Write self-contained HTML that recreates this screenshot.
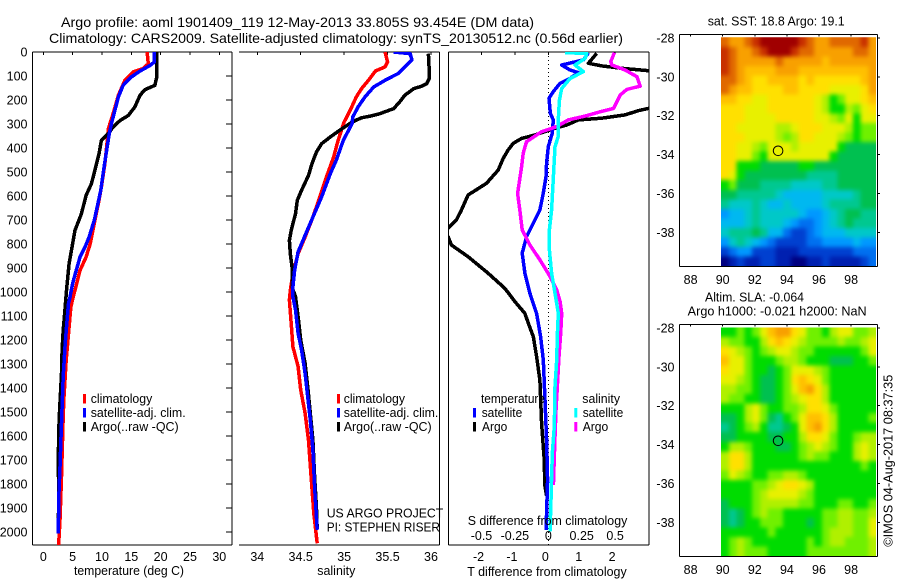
<!DOCTYPE html>
<html lang="en">
<head>
<meta charset="utf-8">
<title>Argo profile 1901409_119</title>
<style>
html,body{margin:0;padding:0;background:#fff;width:900px;height:580px;overflow:hidden}
svg{display:block}
text{font-family:"Liberation Sans",Arial,sans-serif;font-size:12.5px;fill:#000}
.t{font-size:14px}
</style>
</head>
<body>
<svg id="fig" xmlns="http://www.w3.org/2000/svg" width="900" height="580" viewBox="0 0 900 580">
<defs>
<clipPath id="clip1"><rect x="33" y="52" width="199" height="493"/></clipPath>
<clipPath id="clip2"><rect x="239" y="52" width="200" height="493"/></clipPath>
<clipPath id="clip3"><rect x="449" y="52" width="200" height="493"/></clipPath>
<clipPath id="clipSst"><rect x="721" y="37.3" width="155" height="229"/></clipPath>
<clipPath id="clipSla"><rect x="721" y="327.5" width="155" height="229"/></clipPath>
<filter id="soften" x="-10%" y="-10%" width="120%" height="120%" color-interpolation-filters="sRGB">
<feGaussianBlur stdDeviation="2.2"/>
<feComponentTransfer><feFuncA type="linear" slope="60"/></feComponentTransfer>
</filter>
</defs>
<g id="maps"></g>
<g id="axes"></g>
<g id="series"></g>
<g id="labels"></g>

<text class="t" x="61" y="27" textLength="473" lengthAdjust="spacingAndGlyphs">Argo profile: aoml 1901409_119 12-May-2013 33.805S 93.454E (DM data)</text>
<text class="t" x="49" y="43" textLength="574" lengthAdjust="spacingAndGlyphs">Climatology: CARS2009. Satellite-adjusted climatology: synTS_20130512.nc (0.56d earlier)</text>

<text x="74" y="575" textLength="110" lengthAdjust="spacingAndGlyphs">temperature (deg C)</text>
<text x="317.3" y="575" textLength="38" lengthAdjust="spacingAndGlyphs">salinity</text>
<text x="467.3" y="576" textLength="159.4" lengthAdjust="spacingAndGlyphs">T difference from climatology</text>
<text x="467.7" y="525" textLength="159.6" lengthAdjust="spacingAndGlyphs">S difference from climatology</text>

<g>
<rect x="83" y="394" width="3" height="9.5" fill="#f00"/>
<rect x="83" y="408" width="3" height="9.5" fill="#00f"/>
<rect x="83" y="422" width="3" height="9.5" fill="#000"/>
<text x="90.7" y="403" textLength="61.6" lengthAdjust="spacingAndGlyphs">climatology</text>
<text x="90.7" y="417" textLength="95" lengthAdjust="spacingAndGlyphs">satellite-adj. clim.</text>
<text x="90.7" y="431" textLength="88" lengthAdjust="spacingAndGlyphs">Argo(..raw -QC)</text>
</g>
<g>
<rect x="337" y="394" width="3" height="9.5" fill="#f00"/>
<rect x="337" y="408" width="3" height="9.5" fill="#00f"/>
<rect x="337" y="422" width="3" height="9.5" fill="#000"/>
<text x="343.7" y="403" textLength="61.3" lengthAdjust="spacingAndGlyphs">climatology</text>
<text x="343.7" y="417" textLength="94.6" lengthAdjust="spacingAndGlyphs">satellite-adj. clim.</text>
<text x="343.7" y="431" textLength="88" lengthAdjust="spacingAndGlyphs">Argo(..raw -QC)</text>
</g>
<text x="326.7" y="517.7" textLength="116.6" lengthAdjust="spacingAndGlyphs">US ARGO PROJECT</text>
<text x="326.7" y="531.7" textLength="113.3" lengthAdjust="spacingAndGlyphs">PI: STEPHEN RISER</text>

<g>
<text x="481" y="403" textLength="64" lengthAdjust="spacingAndGlyphs">temperature</text>
<rect x="473" y="408" width="3" height="9.5" fill="#00f"/>
<rect x="473" y="422" width="3" height="9.5" fill="#000"/>
<text x="481.7" y="417" textLength="40.6" lengthAdjust="spacingAndGlyphs">satellite</text>
<text x="482" y="431" textLength="25.3" lengthAdjust="spacingAndGlyphs">Argo</text>
<text x="582.3" y="403" textLength="37.7" lengthAdjust="spacingAndGlyphs">salinity</text>
<rect x="574.3" y="408" width="3" height="9.5" fill="#0ff"/>
<rect x="574.3" y="422" width="3" height="9.5" fill="#f0f"/>
<text x="582.7" y="417" textLength="40.6" lengthAdjust="spacingAndGlyphs">satellite</text>
<text x="582.7" y="431" textLength="25.6" lengthAdjust="spacingAndGlyphs">Argo</text>
</g>

<text x="707.7" y="25.7" textLength="137" lengthAdjust="spacingAndGlyphs">sat. SST: 18.8 Argo: 19.1</text>
<text x="705" y="301.7" textLength="99" lengthAdjust="spacingAndGlyphs">Altim. SLA: -0.064</text>
<text x="687.7" y="315.7" textLength="179" lengthAdjust="spacingAndGlyphs">Argo h1000: -0.021 h2000: NaN</text>
<text transform="translate(892.5,546.7) rotate(-90)" x="0" y="0" textLength="172" lengthAdjust="spacingAndGlyphs">©IMOS 04-Aug-2017 08:37:35</text>
</svg>

<script>
// ---- tick data ----
const depthTicks = [0,100,200,300,400,500,600,700,800,900,1000,1100,1200,1300,1400,1500,1600,1700,1800,1900,2000];
const tempTicks = [0,5,10,15,20,25,30];
const salTicks = [34,34.5,35,35.5,36];
const diffTTicks = [-2,-1,0,1,2];
const diffSTickLabels = ["-0.5","-0.25","0","0.25","0.5"];
const diffSTicks = [-0.5,-0.25,0,0.25,0.5];
const lonTicks = [88,90,92,94,96,98];
const latTicks = [-28,-30,-32,-34,-36,-38];

// ---- temperature panel ----
const tempArgoDepth = [0,110,139,157,180,229,264,285,312,340,368,424,493,549,597,674,743,799,882,979,1040,1103,1158,1242,1339,1436,1533,1686,1850,2000];
const tempArgoValue = [19.3,19.3,19.0,17.3,16.5,15.6,14.5,13.1,11.9,11.1,9.9,9.5,8.8,8.2,7.3,6.5,5.4,5.0,4.4,4.0,3.8,3.6,3.4,3.2,3.1,2.9,2.7,2.55,2.62,2.55];
const tempClimDepth = [0,49,69,83,118,180,257,319,368,465,562,618,701,799,854,910,965,1021,1061,1145,1228,1283,1450,1547,1770,1950,2055];
const tempClimValue = [17.7,17.9,17,15.3,13.9,12.8,11.9,11.1,10.9,10.5,9.9,9.5,8.8,8,7.3,6.25,5.7,5.1,4.7,4.4,4.1,3.9,3.5,3.35,3.1,2.85,2.6];
const tempSatDepth = [0,42,56,79,104,139,187,243,299,340,424,507,576,632,701,771,813,854,910,965,1028,1048,1131,1228,1353,1478,1617,1728,1853,2006];
const tempSatValue = [18.9,18.9,18.2,16.5,15,13.6,12.8,12.2,11.6,11.25,10.7,10.2,9.8,9.3,8.7,7.8,7.1,6.25,5.6,5,4.5,4.3,4,3.7,3.4,3.2,3,2.85,2.65,2.55];

// ---- salinity panel ----
const salArgoDepth = [7,83,111,132,143,153,180,208,236,257,267,274,292,326,354,382,417,465,514,576,618,674,743,785,840,896,937,979,1019,1103,1200,1297,1394,1505,1617,1769,1894,1990];
const salArgoValue = [35.97,35.98,35.98,35.95,35.89,35.8,35.7,35.64,35.57,35.41,35.3,35.2,35.09,34.95,34.84,34.74,34.68,34.63,34.59,34.51,34.46,34.44,34.39,34.37,34.38,34.4,34.4,34.4,34.44,34.47,34.5,34.55,34.58,34.61,34.64,34.66,34.68,34.69];
const salClimDepth = [0,42,62,79,118,153,187,243,292,368,437,507,604,688,771,840,924,993,1033,1131,1228,1311,1408,1505,1617,1769,1922,2047];
const salClimValue = [35.47,35.5,35.47,35.36,35.28,35.2,35.14,35.07,35,34.93,34.88,34.81,34.72,34.64,34.55,34.47,34.41,34.38,34.37,34.39,34.41,34.47,34.5,34.55,34.59,34.62,34.65,34.69];
const salSatDepth = [0,7,32,62,90,118,146,187,229,271,299,368,451,507,604,688,764,833,910,979,1019,1075,1172,1242,1339,1436,1533,1658,1811,1991];
const salSatValue = [35.57,35.76,35.78,35.7,35.62,35.47,35.34,35.24,35.16,35.1,35.09,34.99,34.91,34.84,34.74,34.64,34.55,34.47,34.43,34.41,34.41,34.44,34.47,34.51,34.55,34.58,34.61,34.64,34.66,34.69];

// ---- difference panel ----
const dTArgoDepth = [6,47,58,68,78,120,180,220,235,244,262,276,283,304,318,346,360,381,408,443,492,547,596,658,700,735,752,770,804,853,922,985,1040,1089,1130,1186,1269,1367,1547,1686,1811,1850];
const dTArgoValue = [1.45,1.2,1.6,2.2,3.0,3.6,4.0,3.6,3.0,2.7,2.3,1.6,0.9,0.55,0.2,-0.4,-0.8,-1.05,-1.2,-1.35,-1.5,-1.85,-2.4,-2.6,-2.75,-3.0,-3.2,-3.0,-2.9,-2.4,-1.8,-1.3,-1.0,-0.7,-0.6,-0.45,-0.35,-0.25,-0.2,-0.13,-0.1,-0.05];
const dTSatDepth = [3,33,43,54,75,86,110,131,165,193,255,283,338,394,463,519,588,658,713,769,838,922,1005,1089,1186,1283,1450,1617,1783,1922,1992];
const dTSatValue = [1.2,1.05,0.75,0.4,0.65,0.9,0.65,0.35,0.15,0.02,0.06,0.15,0.12,0,-0.05,-0.07,-0.15,-0.25,-0.45,-0.65,-0.78,-0.7,-0.55,-0.35,-0.23,-0.15,-0.1,-0.05,-0.02,-0.05,-0.07];
const dSSatDepth = [3,6,27,54,82,110,152,201,283,352,394,519,658,741,825,922,1005,1089,1172,1283,1394,1561,1672,1866,1998];
const dSSatValue = [0.125,0.288,0.275,0.2,0.263,0.163,0.1,0.083,0.075,0.075,0.05,0.038,0.025,0.008,0.008,0.025,0.05,0.075,0.068,0.063,0.05,0.045,0.03,0.02,0.013];
const dSArgoDepth = [3,40,54,75,103,142,156,179,235,249,267,283,311,332,374,422,478,589,658,741,804,866,935,991,1040,1089,1172,1269,1367,1492,1603,1804];
const dSArgoValue = [0.495,0.468,0.475,0.575,0.663,0.688,0.588,0.538,0.488,0.388,0.275,0.15,0.063,-0.05,-0.163,-0.188,-0.2,-0.23,-0.213,-0.195,-0.138,-0.063,0.013,0.063,0.088,0.1,0.093,0.08,0.07,0.058,0.05,0.038];

// ---- map data: colour-scale levels, top row first ----
const sstLevels = [
[16,15,15,16,17,18,18,18,18,18,17,16,15,15,16,16,16,16,17,15],
[17,16,15,15,16,17,18,18,18,17,16,16,15,15,15,15,15,16,16,15],
[17,16,15,15,15,15,15,16,15,15,15,15,15,14,15,15,15,15,15,15],
[17,16,15,14,14,14,14,15,15,15,14,14,14,14,14,14,14,14,14,15],
[16,16,15,14,13,13,14,14,14,14,13,14,13,13,13,13,13,13,14,15],
[16,15,14,14,13,13,13,13,14,14,13,13,13,13,12,12,12,12,13,15],
[14,14,13,13,12,12,13,13,13,13,13,13,12,11,9,10,12,12,13,14],
[13,13,13,12,12,12,13,13,13,13,13,13,12,11,9,9,11,10,12,13],
[13,13,13,12,12,12,12,13,13,13,13,13,12,12,11,10,12,9,12,12],
[13,13,12,12,12,12,12,11,11,12,13,13,13,12,12,12,11,9,10,10],
[13,13,13,12,12,12,12,11,10,11,13,13,12,12,12,11,10,9,10,10],
[13,13,12,12,11,10,12,12,12,11,12,12,12,12,12,9,8,8,8,8],
[13,13,12,12,10,9,12,12,12,12,12,12,12,12,9,8,8,8,8,8],
[13,13,9,9,9,8,8,8,8,8,9,9,8,8,8,8,8,8,8,8],
[13,12,9,8,8,8,8,8,8,8,8,7,7,7,7,8,8,8,8,8],
[9,10,8,8,8,7,7,7,7,6,6,6,6,7,7,8,8,8,8,8],
[8,8,7,7,7,7,7,6,5,5,5,5,5,6,6,6,6,7,8,8],
[7,6,6,6,7,6,5,5,6,5,5,5,5,6,7,7,7,7,8,8],
[4,5,5,6,7,6,6,6,6,6,5,4,4,5,6,7,8,8,7,7],
[5,5,5,6,7,6,6,6,5,4,3,3,4,5,6,7,8,7,7,7],
[6,7,7,7,8,7,5,5,3,2,2,3,4,5,5,5,6,6,6,6],
[4,6,7,6,5,4,3,2,2,2,2,3,3,4,4,4,4,5,4,4],
[2,3,4,4,2,2,2,1,1,1,2,2,2,2,2,2,2,3,3,3],
[0,1,2,1,1,2,2,1,1,0,0,1,1,2,1,1,1,1,2,3]
];
const slaLevels = [
[9,9,10,9,10,12,14,15,15,13,12,10,10,9,11,12,12,10,10,11],
[11,10,10,9,9,11,13,14,13,12,11,10,10,10,10,11,10,10,11,12],
[13,12,11,10,9,10,11,12,12,11,10,10,9,9,9,9,9,9,10,12],
[14,12,12,10,9,9,9,10,11,11,10,9,9,9,8,8,8,9,9,10],
[13,12,12,10,9,9,8,9,10,12,12,12,11,10,9,9,9,9,9,9],
[12,12,11,10,9,8,8,9,10,13,14,13,12,10,9,9,9,9,9,9],
[11,11,10,10,9,8,8,9,10,12,14,15,13,11,9,9,9,9,9,9],
[11,10,10,9,9,8,8,9,10,11,12,13,13,11,9,9,9,9,9,9],
[9,9,9,11,12,10,9,9,10,10,11,13,13,12,10,9,9,9,9,9],
[8,8,9,11,12,10,8,7,9,10,12,14,14,13,11,9,9,9,9,10],
[7,8,9,10,11,9,7,7,8,9,12,14,15,13,11,9,9,9,9,9],
[8,8,9,9,9,9,8,8,9,9,11,13,13,12,10,9,9,10,11,11],
[9,11,11,10,9,9,9,8,8,9,10,11,12,11,10,9,9,11,12,11],
[11,13,13,11,9,9,9,9,9,9,10,11,10,10,9,9,9,11,12,11],
[11,13,13,11,9,9,9,9,9,9,9,9,9,9,9,9,9,9,10,9],
[10,12,11,10,9,9,10,10,11,11,10,9,9,9,9,9,9,9,9,9],
[9,9,9,9,10,10,11,12,13,13,12,11,9,9,9,9,9,9,9,9],
[9,9,9,9,10,11,12,12,12,12,11,10,9,9,9,9,9,9,9,9],
[8,9,9,9,10,11,11,11,11,11,10,10,9,9,9,10,10,9,9,10],
[8,7,8,9,10,11,10,10,9,9,9,9,9,10,10,11,11,10,10,11],
[8,7,8,9,9,10,10,10,9,9,9,8,9,10,10,11,11,10,10,12],
[9,9,9,9,9,9,10,9,9,9,9,9,9,10,11,11,11,10,10,12],
[9,10,11,10,9,9,9,9,9,9,9,10,9,10,11,11,10,10,10,11],
[9,10,11,10,10,10,9,9,9,9,9,10,10,10,10,10,10,10,10,11]
];
const levelColors = ["#000080","#0020b0","#0040d0","#0070f0","#0098ff","#00b8f0","#00c8c8","#00c890","#00c050","#00dc00","#70f000","#b0f000","#e8f000","#ffe000","#ffc000","#f8a000","#e06800","#c83000","#a00000"];
const argoLon = 93.454;
const argoLat = -33.805;

// ---- axis functions ----
const depthY = d => 52 + 0.24 * d;
const tempX = v => 43.3 + 5.867 * v;
const salX = v => 257.3 + 86.85 * (v - 34);
const diffX = v => 548.3 + 33.4 * v;
const diffSX = v => diffX(v * 4);
const lonX = v => 722.7 + 16.05 * (v - 90);
const latOffset = v => (-28 - v) * 19.43;

const NS = "http://www.w3.org/2000/svg";
const maps = document.getElementById("maps");
const axes = document.getElementById("axes");
const series = document.getElementById("series");
const labels = document.getElementById("labels");

function hline(x1, y1, x2, y2, w) {
  const el = document.createElementNS(NS, "line");
  el.setAttribute("x1", x1);
  el.setAttribute("y1", y1);
  el.setAttribute("x2", x2);
  el.setAttribute("y2", y2);
  el.setAttribute("stroke", "#000");
  el.setAttribute("stroke-width", w || 1);
  el.setAttribute("shape-rendering", "crispEdges");
  
  
  axes.appendChild(el);
  return el;
}
function tick(x1, y1, x2, y2) {
  const el = hline(x1, y1, x2, y2, 1);
  
  return el;
}
function label(x, y, str, anchor) {
  const el = document.createElementNS(NS, "text");
  el.setAttribute("x", x);
  el.setAttribute("y", y);
  el.setAttribute("text-anchor", anchor || "middle");
  el.textContent = str;
  
  
  labels.appendChild(el);
}
function profile(xs, ys, xf, color, clip, w) {
  const el = document.createElementNS(NS, "polyline");
  el.setAttribute("points", xs.map((v, i) => xf(v).toFixed(1) + "," + depthY(ys[i]).toFixed(1)).join(" "));
  el.setAttribute("fill", "none");
  el.setAttribute("stroke", color);
  el.setAttribute("stroke-width", w || 3.5);
  el.setAttribute("stroke-linejoin", "round");
  el.setAttribute("clip-path", "url(#" + clip + ")");
  el.setAttribute("shape-rendering", "crispEdges");
  
  
  series.appendChild(el);
}

// profile frames
hline(32.5, 52, 232, 52);
hline(32.5, 545, 232, 545);
hline(32.5, 52, 32.5, 545);
hline(232, 52, 232, 545);
hline(239, 52, 439.5, 52);
hline(239, 545, 439.5, 545);
hline(439.5, 52, 439.5, 545);
hline(448.5, 52, 649, 52);
hline(448.5, 545, 649, 545);
hline(448.5, 52, 448.5, 545);
hline(649, 52, 649, 545);

depthTicks.forEach(d => {
  tick(226, depthY(d), 232, depthY(d));
  label(27.5, depthY(d) + 4.5, String(d), "end");
});
tempTicks.forEach(v => {
  tick(tempX(v), 52, tempX(v), 55);
  label(tempX(v), 561, String(v));
});
salTicks.forEach(v => {
  tick(salX(v), 52, salX(v), 55);
  label(salX(v), 561, String(v));
});
diffTTicks.forEach(v => {
  tick(diffX(v), 52, diffX(v), 55);
  label(diffX(v) - 3, 561, String(v));
});
diffSTicks.forEach((v, i) => {
  label(diffSX(v), 540, diffSTickLabels[i]);
});

// zero reference line
const zeroLine = hline(diffX(0), 52, diffX(0), 545, 1);
zeroLine.setAttribute("stroke-dasharray", "1 3");


// profile curves
profile(tempClimValue, tempClimDepth, tempX, "#f00", "clip1");
profile(tempArgoValue, tempArgoDepth, tempX, "#000", "clip1");
profile(tempSatValue, tempSatDepth, tempX, "#00f", "clip1");
profile(salClimValue, salClimDepth, salX, "#f00", "clip2");
profile(salArgoValue, salArgoDepth, salX, "#000", "clip2");
profile(salSatValue, salSatDepth, salX, "#00f", "clip2");
profile(dTArgoValue, dTArgoDepth, diffX, "#000", "clip3");
profile(dTSatValue, dTSatDepth, diffX, "#00f", "clip3");
profile(dSArgoValue, dSArgoDepth, diffSX, "#f0f", "clip3");
profile(dSSatValue, dSSatDepth, diffSX, "#0ff", "clip3");

// maps
function drawMap(levels, top, bottom, frameTop, frameBottom, tickTop, clipId) {
  const left = 721, right = 876;
  const cw = (right - left) / levels[0].length;
  const ch = (bottom - top) / levels.length;
  const grid = document.createElementNS(NS, "g");
  grid.setAttribute("filter", "url(#soften)");
  grid.setAttribute("clip-path", "url(#" + clipId + ")");
  
  
  maps.appendChild(grid);
  levels.forEach((row, r) => {
    row.forEach((v, c) => {
      const el = document.createElementNS(NS, "rect");
      el.setAttribute("x", (left + c * cw).toFixed(2));
      el.setAttribute("y", (top + r * ch).toFixed(2));
      el.setAttribute("width", (cw + 0.4).toFixed(2));
      el.setAttribute("height", (ch + 0.4).toFixed(2));
      el.setAttribute("fill", levelColors[v]);
      el.setAttribute("shape-rendering", "crispEdges");
      
      
      grid.appendChild(el);
    });
  });
  hline(679.5, frameTop, 877.5, frameTop);
  hline(679.5, frameBottom, 877.5, frameBottom);
  hline(679.5, frameTop, 679.5, frameBottom);
  hline(877.5, frameTop, 877.5, frameBottom);
  lonTicks.forEach(v => {
    tick(lonX(v), frameTop, lonX(v), frameTop + 2);
    label(lonX(v), frameBottom + 17.5, String(v));
  });
  latTicks.forEach(v => {
    const y = tickTop + latOffset(v);
    tick(877.5, y, 880, y);
    label(674.5, y + 4.5, String(v), "end");
  });
  const circle = document.createElementNS(NS, "circle");
  circle.setAttribute("cx", lonX(argoLon).toFixed(1));
  circle.setAttribute("cy", (tickTop + latOffset(argoLat)).toFixed(1));
  circle.setAttribute("r", "4.8");
  circle.setAttribute("fill", "none");
  circle.setAttribute("stroke", "#000");
  circle.setAttribute("stroke-width", "1");
  
  
  axes.appendChild(circle);
}
drawMap(sstLevels, 37.3, 266, 34.5, 266.5, 38, "clipSst");
drawMap(slaLevels, 327.5, 556, 324.5, 556.5, 328, "clipSla");
</script>
</body>
</html>
